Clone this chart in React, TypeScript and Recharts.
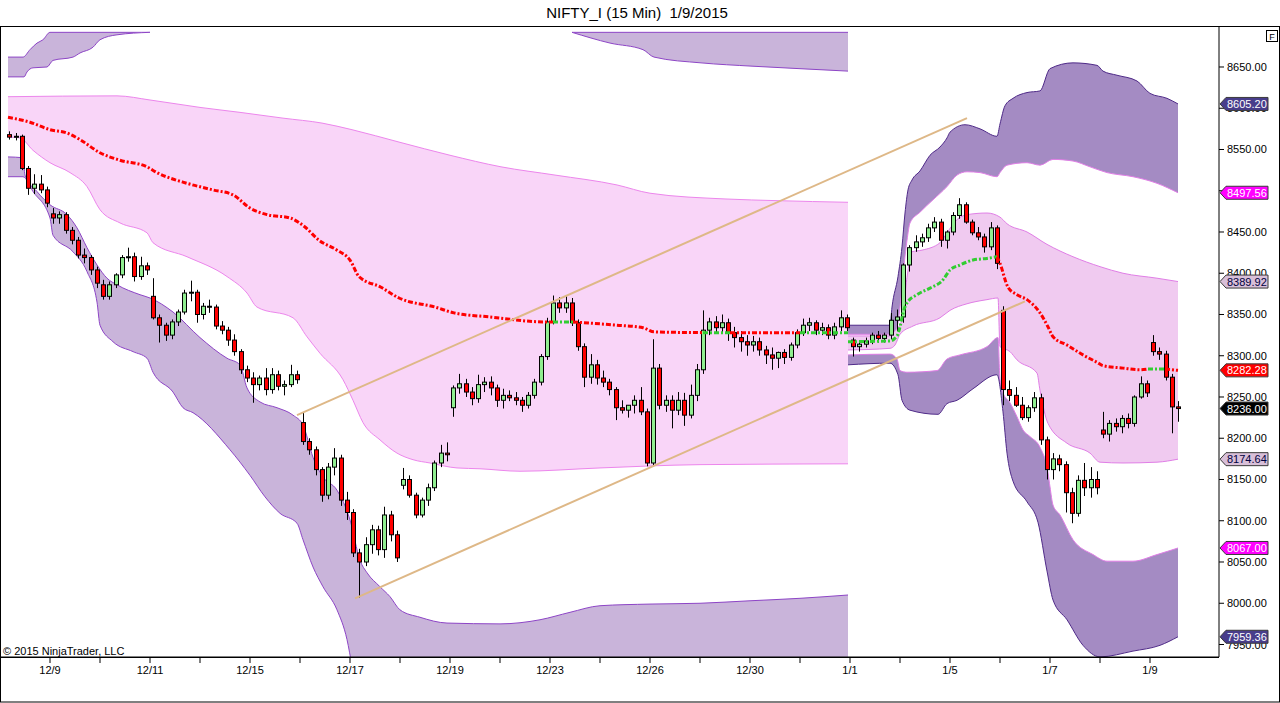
import React from "react";
import { Area, Bar, ComposedChart, Line, XAxis, YAxis } from "recharts";

// trading sessions shown on the time axis (every other one is labelled)
const dayLabels = [
  "12/8", "12/9", "12/10", "12/11", "12/12", "12/15", "12/16", "12/17", "12/18", "12/19", "12/22", "12/23",
  "12/24", "12/26", "12/29", "12/30", "12/31", "1/1", "1/2", "1/5", "1/6", "1/7", "1/8", "1/9"
];

const priceTicks = [7950, 8000, 8050, 8100, 8150, 8200, 8250, 8300, 8350, 8400, 8450, 8500, 8550, 8600, 8650];

// candles, roughly three 15-min bars each: [open, high, low, close]
const c1208 = [[8568, 8572, 8562, 8565], [8565, 8570, 8561, 8566], [8566, 8568, 8525, 8527], [8527, 8530, 8495, 8503], [8503, 8520, 8496, 8508], [8508, 8519, 8497, 8501], [8501, 8505, 8480, 8485]];
const c1209 = [[8472, 8479, 8460, 8467], [8467, 8475, 8460, 8471], [8471, 8474, 8448, 8452], [8452, 8456, 8435, 8440], [8440, 8444, 8418, 8422], [8422, 8430, 8412, 8419], [8419, 8422, 8398, 8404], [8404, 8408, 8382, 8388]];
const c1210 = [[8386, 8392, 8368, 8372], [8372, 8390, 8368, 8386], [8386, 8400, 8382, 8398], [8398, 8422, 8394, 8419], [8419, 8431, 8414, 8420], [8420, 8425, 8390, 8396], [8396, 8420, 8392, 8409], [8409, 8413, 8398, 8404]];
const c1211 = [[8372, 8394, 8344, 8346], [8346, 8350, 8316, 8337], [8337, 8340, 8318, 8325], [8325, 8344, 8320, 8341], [8341, 8356, 8336, 8353], [8353, 8380, 8350, 8376], [8376, 8391, 8366, 8377], [8377, 8380, 8340, 8350]];
const c1212 = [[8350, 8364, 8344, 8360], [8360, 8368, 8352, 8359], [8359, 8362, 8332, 8336], [8336, 8342, 8326, 8331], [8331, 8335, 8312, 8319], [8319, 8326, 8300, 8305], [8305, 8308, 8278, 8283], [8283, 8288, 8268, 8273]];
const c1215 = [[8273, 8280, 8243, 8265], [8265, 8276, 8258, 8273], [8273, 8285, 8252, 8259], [8259, 8285, 8254, 8277], [8277, 8282, 8258, 8263], [8263, 8270, 8252, 8265], [8265, 8289, 8262, 8277], [8277, 8282, 8266, 8271]];
const c1216 = [[8219, 8231, 8192, 8196], [8196, 8200, 8180, 8186], [8186, 8190, 8155, 8162], [8162, 8165, 8123, 8131], [8131, 8170, 8126, 8165], [8165, 8188, 8155, 8176], [8176, 8180, 8118, 8125], [8125, 8135, 8101, 8110]];
const c1217 = [[8110, 8114, 8056, 8061], [8061, 8066, 8007, 8050], [8050, 8080, 8045, 8071], [8071, 8095, 8060, 8089], [8089, 8094, 8058, 8065], [8065, 8117, 8055, 8107], [8107, 8112, 8075, 8083], [8083, 8088, 8050, 8055]];
const c1218 = [[8143, 8164, 8138, 8150], [8150, 8155, 8128, 8131], [8131, 8134, 8103, 8107], [8107, 8128, 8104, 8125], [8125, 8145, 8118, 8140], [8140, 8173, 8136, 8170], [8170, 8192, 8165, 8182], [8182, 8195, 8172, 8180]];
const c1219 = [[8237, 8264, 8226, 8261], [8261, 8278, 8254, 8266], [8266, 8272, 8250, 8256], [8256, 8262, 8240, 8248], [8248, 8277, 8243, 8265], [8265, 8274, 8256, 8268], [8268, 8275, 8252, 8261], [8261, 8265, 8238, 8246]];
const c1222 = [[8246, 8260, 8236, 8252], [8252, 8258, 8245, 8249], [8249, 8256, 8240, 8246], [8246, 8250, 8232, 8240], [8240, 8256, 8236, 8252], [8252, 8272, 8248, 8268], [8268, 8302, 8264, 8299], [8299, 8346, 8295, 8341]];
const c1223 = [[8341, 8373, 8338, 8364], [8364, 8371, 8352, 8358], [8358, 8372, 8352, 8364], [8364, 8370, 8336, 8340], [8340, 8344, 8306, 8311], [8311, 8315, 8262, 8274], [8274, 8302, 8266, 8289], [8289, 8295, 8265, 8273]];
const c1224 = [[8273, 8282, 8262, 8268], [8268, 8272, 8252, 8259], [8259, 8262, 8222, 8237], [8237, 8246, 8230, 8234], [8234, 8240, 8225, 8240], [8240, 8252, 8230, 8246], [8246, 8262, 8228, 8232], [8232, 8236, 8166, 8170]];
const c1226 = [[8170, 8320, 8166, 8285], [8285, 8290, 8235, 8240], [8240, 8252, 8232, 8246], [8246, 8252, 8212, 8234], [8234, 8256, 8228, 8246], [8246, 8255, 8215, 8228], [8228, 8265, 8224, 8252], [8252, 8290, 8245, 8283]];
const c1229 = [[8283, 8355, 8278, 8331], [8331, 8346, 8325, 8341], [8341, 8348, 8328, 8334], [8334, 8350, 8328, 8340], [8340, 8345, 8318, 8328], [8328, 8335, 8310, 8322], [8322, 8330, 8305, 8317], [8317, 8325, 8300, 8313]];
const c1230 = [[8313, 8324, 8305, 8317], [8317, 8322, 8300, 8307], [8307, 8312, 8290, 8301], [8301, 8310, 8283, 8297], [8297, 8305, 8285, 8304], [8304, 8308, 8290, 8298], [8298, 8316, 8294, 8313], [8313, 8332, 8309, 8328]];
const c1231 = [[8328, 8345, 8324, 8337], [8337, 8346, 8330, 8340], [8340, 8343, 8325, 8331], [8331, 8340, 8325, 8334], [8334, 8338, 8320, 8325], [8325, 8340, 8320, 8335], [8335, 8355, 8330, 8346], [8346, 8350, 8330, 8334]];
const c0101 = [[8319, 8322, 8299, 8311], [8311, 8318, 8305, 8314], [8314, 8322, 8310, 8318], [8318, 8328, 8314, 8325], [8325, 8330, 8316, 8321], [8321, 8328, 8316, 8325], [8325, 8352, 8320, 8343], [8343, 8356, 8330, 8347]];
const c0102 = [[8347, 8412, 8340, 8410], [8410, 8434, 8402, 8431], [8431, 8446, 8426, 8438], [8438, 8448, 8432, 8443], [8443, 8460, 8438, 8455], [8455, 8468, 8450, 8462], [8462, 8466, 8432, 8440], [8440, 8452, 8430, 8450]];
const c0105 = [[8450, 8474, 8446, 8470], [8470, 8491, 8466, 8483], [8483, 8486, 8460, 8462], [8462, 8465, 8446, 8449], [8449, 8456, 8440, 8444], [8444, 8448, 8425, 8432], [8432, 8462, 8428, 8455], [8455, 8458, 8405, 8412]];
const c0106 = [[8355, 8360, 8240, 8259], [8259, 8270, 8245, 8252], [8252, 8262, 8238, 8240], [8240, 8250, 8222, 8225], [8225, 8240, 8220, 8237], [8237, 8256, 8232, 8249], [8249, 8254, 8192, 8198], [8198, 8202, 8150, 8162]];
const c0107 = [[8162, 8182, 8150, 8175], [8175, 8180, 8160, 8168], [8168, 8172, 8110, 8134], [8134, 8140, 8097, 8109], [8109, 8155, 8105, 8149], [8149, 8170, 8130, 8140], [8140, 8165, 8128, 8150], [8150, 8160, 8132, 8140]];
const c0108 = [[8210, 8232, 8200, 8205], [8205, 8222, 8196, 8218], [8218, 8224, 8208, 8214], [8214, 8228, 8206, 8224], [8224, 8230, 8212, 8218], [8218, 8252, 8214, 8250], [8250, 8275, 8248, 8266], [8266, 8270, 8250, 8255]];
const c0109 = [[8316, 8325, 8300, 8305], [8305, 8310, 8295, 8302], [8302, 8306, 8270, 8274], [8274, 8278, 8206, 8238], [8238, 8245, 8220, 8236]];

const sessions = [c1208, c1209, c1210, c1211, c1212, c1215, c1216, c1217, c1218, c1219, c1222, c1223, c1224, c1226, c1229, c1230, c1231, c0101, c0102, c0105, c0106, c0107, c0108, c0109];

// channel 1 (12/8 - 12/31), points are [bar index, price]
const s1UpperLTop = [[4, 8662], [11.5, 8662], [15, 8671], [18.5, 8679], [21.5, 8683], [25, 8692], [75, 8692]];
const s1UpperLBottom = [[4, 8638], [12, 8638], [13.5, 8644], [16.5, 8649], [23.5, 8650], [26.5, 8658], [36.5, 8662], [40, 8667], [46.5, 8674], [50, 8683], [58.5, 8689], [75, 8692]];
const s1UpperRTop = [[286, 8692], [424, 8692]];
const s1UpperRBottom = [[286, 8692], [305, 8679], [321.5, 8671], [327, 8662], [350.5, 8655], [376, 8651], [399.5, 8648], [424, 8645]];
const s1PinkTop = [[4, 8614], [58.5, 8615], [75, 8610], [100, 8601], [120, 8595], [141.5, 8588], [161, 8582], [176, 8574], [199.5, 8559], [225, 8543], [250.5, 8529], [277.5, 8519], [308.5, 8507], [325, 8497], [363, 8490], [388.5, 8488], [424, 8486]];
const s1PinkBottom = [[4, 8565], [10, 8564], [16.5, 8549], [25, 8534], [35, 8522], [43.5, 8505], [50, 8477], [60, 8461], [73.5, 8449], [76.5, 8437], [93.5, 8420], [113.5, 8396], [123.5, 8376], [128.5, 8359], [146.5, 8346], [153.5, 8323], [160, 8303], [171.5, 8271], [176.5, 8246], [181.5, 8219], [190, 8198], [198.5, 8182], [206.5, 8174], [215, 8170], [228.5, 8164], [240, 8163], [260, 8160], [300, 8164], [350, 8168], [424, 8169]];
const s1LowerTop = [[4, 8541], [11.5, 8540], [12.5, 8519], [18.5, 8499], [25, 8483], [33.5, 8471], [38.5, 8455], [43.5, 8431], [48.5, 8410], [53.5, 8394], [58.5, 8386], [70, 8374], [75, 8370], [86.5, 8353], [100, 8322], [113.5, 8297], [120, 8289], [123.5, 8261], [130, 8244], [138.5, 8237], [146.5, 8228], [151.5, 8216], [156.5, 8177], [161.5, 8153], [168.5, 8137], [175, 8101], [180, 8052], [183.5, 8037], [190, 8020], [195, 8008], [200, 7992], [210, 7983], [223.5, 7976], [250, 7975], [270, 7980], [285, 7989], [300, 7997], [325, 7999], [350, 8000], [375, 8003], [400, 8006], [424, 8010]];
const s1LowerBottom = [[4, 8517], [11.5, 8517], [16.5, 8499], [25, 8467], [26.5, 8446], [36.5, 8426], [43.5, 8402], [48.5, 8365], [50, 8337], [56.5, 8317], [66.5, 8305], [73.5, 8297], [76.5, 8280], [86.5, 8256], [91.5, 8237], [96.5, 8231], [115, 8186], [125, 8155], [132.5, 8129], [140, 8109], [148.5, 8097], [151.5, 8077], [156.5, 8044], [161.5, 8020], [168.5, 7992], [173.5, 7956], [176, 7925], [185, 7859], [200, 7786], [250, 7774], [325, 7810], [424, 7852]];
// regression line: [bar index, price, 1 when the next stretch is drawn green]
const s1Mean = [[4, 8589, 0], [15, 8583, 0], [25, 8574, 0], [33.5, 8570, 0], [40, 8562, 0], [50, 8546, 0], [60, 8537, 0], [73.5, 8529, 0], [78.5, 8522, 0], [93.5, 8509, 0], [106.5, 8501, 0], [116.5, 8495, 0], [125, 8479, 0], [133.5, 8471, 0], [145, 8467, 0], [152.5, 8456, 0], [159.5, 8440, 0], [168.5, 8428, 0], [175, 8416, 0], [179.5, 8396, 0], [190.5, 8383, 0], [199.5, 8370, 0], [217.5, 8359, 0], [227, 8352, 0], [245, 8347, 0], [272.5, 8341, 0], [276.5, 8341, 1], [286.5, 8341, 0], [308.5, 8337, 0], [321.5, 8334, 0], [327, 8329, 0], [351.5, 8328, 1], [365, 8328, 0], [400, 8328, 1], [424, 8328, 1]];

// channel 2 (1/1 - 1/9)
const s2UpperTop = [[424, 8337], [445, 8337], [446, 8359], [449, 8396], [451, 8432], [452.5, 8473], [454, 8501], [456, 8513], [460, 8524], [465, 8543], [470, 8553], [473.5, 8564], [475, 8571], [482.5, 8580], [490, 8575], [498.5, 8566], [500, 8581], [502.5, 8603], [506.5, 8612], [513.5, 8619], [520, 8621], [525, 8648], [536.5, 8655], [548.5, 8652], [551.5, 8645], [558.5, 8640], [568.5, 8633], [575, 8618], [583.5, 8612], [589, 8605.2]];
const s2UpperBottom = [[424, 8326], [445, 8326], [448, 8331], [450, 8359], [451.5, 8398], [453.5, 8440], [455, 8461], [460, 8474], [466.5, 8489], [473.5, 8505], [478.5, 8519], [483.5, 8523], [490, 8522], [498.5, 8517], [500, 8522], [503.5, 8531], [513.5, 8534], [520, 8531], [526.5, 8538], [536.5, 8536], [545, 8529], [553.5, 8522], [566.5, 8517], [578.5, 8509], [589, 8497.56]];
const s2PinkTop = [[424, 8324], [445, 8324], [446.5, 8328], [451, 8343], [453.5, 8395], [456, 8426], [461, 8428], [470, 8437], [473.5, 8449], [478.5, 8465], [483.5, 8471], [493.5, 8473], [500, 8468], [503.5, 8460], [513.5, 8450], [523.5, 8435], [536.5, 8420], [550, 8408], [561.5, 8400], [578.5, 8394], [589, 8389.92]];
const s2PinkBottom = [[424, 8307], [445, 8309], [447.5, 8313], [450, 8326], [456.5, 8336], [470, 8346], [475, 8355], [483.5, 8363], [493.5, 8368], [499, 8370], [500, 8311], [505, 8305], [508.5, 8295], [518.5, 8279], [520, 8258], [524, 8218], [533.5, 8194], [545, 8182], [550, 8171], [561.5, 8170], [578.5, 8171], [589, 8174.64]];
const s2LowerTop = [[424, 8301], [445, 8302], [448.5, 8296], [450, 8282], [453.5, 8280], [468.5, 8282], [473.5, 8296], [480, 8301], [493.5, 8311], [499, 8322], [500, 8271], [501.5, 8255], [505, 8243], [508.5, 8226], [511.5, 8210], [515, 8202], [520, 8189], [524, 8158], [525, 8141], [526.5, 8119], [530, 8107], [536.5, 8077], [546.5, 8059], [553.5, 8051], [566.5, 8051], [578.5, 8059], [589, 8067]];
const s2LowerBottom = [[424, 8289], [445, 8291], [449, 8277], [451, 8246], [455, 8234], [469, 8229], [473.5, 8242], [478.5, 8246], [486.5, 8260], [498.5, 8277], [501.5, 8232], [503.5, 8182], [506.5, 8148], [513.5, 8123], [519, 8098], [523.5, 8039], [526.5, 8004], [533.5, 7980], [541.5, 7949], [550, 7935], [566.5, 7942], [580, 7949], [589, 7959.36]];
const s2Mean = [[424, 8317, 1], [445, 8318, 1], [448.5, 8324, 1], [450, 8335, 1], [451.5, 8352, 1], [453.5, 8364, 1], [458.5, 8374, 1], [465, 8382, 1], [471.5, 8392, 1], [475, 8404, 1], [480, 8410, 1], [486.5, 8416, 1], [493.5, 8418, 1], [498.5, 8420, 0], [500, 8412, 0], [504, 8383, 0], [508.5, 8374, 0], [513.5, 8368, 0], [520, 8352, 0], [524, 8335, 0], [526.5, 8323, 0], [533.5, 8313, 0], [541.5, 8301, 0], [548.5, 8292, 0], [551.5, 8288, 0], [561.5, 8285, 0], [570, 8283, 0], [574, 8284, 1], [582.5, 8284, 0], [589, 8282.28, 0]];

// hand-drawn trend channel
const trendUpper = [[148.5, 8228], [483.5, 8588]];
const trendLower = [[177.5, 8006], [512.5, 8366]];

const Y_MIN = 7934.85;
const Y_MAX = 8698.47;
const SLOT = 3.125;
const FONT = "Arial, 'Liberation Sans', sans-serif";

const PURPLE1 = "#c9b4da";
const EDGE1 = "#8d45c6";
const PINK1 = "#f9d5f8";
const PINKEDGE1 = "#ec86ec";
const PURPLE2 = "#a48bc3";
const EDGE2 = "#4f2a88";
const PINK2 = "#f0caf0";
const PINKEDGE2 = "#e07ee6";

const rows = new Map();
const row = (u) => {
  const k = Math.round(u * 10000) / 10000;
  if (!rows.has(k)) rows.set(k, { u: k });
  return rows.get(k);
};
const put = (key, pts) => pts.forEach((p) => { row(p[0])[key] = p[1]; });

sessions.forEach((day, k) => {
  const first = k === 0 ? 8 - day.length : 0;
  day.forEach(([o, h, l, c], i) => {
    Object.assign(row(25 * k + SLOT * (first + i) + SLOT / 2), { o, h, l, c });
  });
});

const fills = [
  { key: "s1ult", pts: s1UpperLTop, fill: PURPLE1, stroke: EDGE1 },
  { key: "s1ulb", pts: s1UpperLBottom, fill: "#ffffff", stroke: EDGE1 },
  { key: "s1urt", pts: s1UpperRTop, fill: PURPLE1, stroke: EDGE1 },
  { key: "s1urb", pts: s1UpperRBottom, fill: "#ffffff", stroke: EDGE1 },
  { key: "s1pt", pts: s1PinkTop, fill: PINK1, stroke: PINKEDGE1 },
  { key: "s1pb", pts: s1PinkBottom, fill: "#ffffff", stroke: PINKEDGE1 },
  { key: "s1lt", pts: s1LowerTop, fill: PURPLE1, stroke: EDGE1 },
  { key: "s1lb", pts: s1LowerBottom, fill: "#ffffff", stroke: EDGE1 },
  { key: "s2ut", pts: s2UpperTop, fill: PURPLE2, stroke: EDGE2 },
  { key: "s2ub", pts: s2UpperBottom, fill: "#ffffff", stroke: PINKEDGE2 },
  { key: "s2pt", pts: s2PinkTop, fill: PINK2, stroke: PINKEDGE2 },
  { key: "s2pb", pts: s2PinkBottom, fill: "#ffffff", stroke: PINKEDGE2 },
  { key: "s2lt", pts: s2LowerTop, fill: PURPLE2, stroke: PINKEDGE2 },
  { key: "s2lb", pts: s2LowerBottom, fill: "#ffffff", stroke: EDGE2 }
];
fills.forEach((f) => put(f.key, f.pts));

// split a regression line into red / green stretches that share their end points
const meanSegments = (samples, prefix) => {
  const segs = [];
  for (let i = 0; i < samples.length - 1; i++) {
    const up = samples[i][2] === 1;
    const lastSeg = segs[segs.length - 1];
    if (lastSeg && lastSeg.up === up) lastSeg.pts.push(samples[i + 1]);
    else segs.push({ up, pts: [samples[i], samples[i + 1]] });
  }
  return segs.map((s, j) => ({ ...s, key: prefix + j }));
};
const means = [...meanSegments(s1Mean, "m1_"), ...meanSegments(s2Mean, "m2_")];
means.forEach((m) => put(m.key, m.pts));
put("trendUpper", trendUpper);
put("trendLower", trendLower);

const data = [...rows.values()].sort((a, b) => a.u - b.u);

const last = (pts) => pts[pts.length - 1][1];
const lastClose = c0109[c0109.length - 1][3];
const markerValues = [last(s2UpperTop), last(s2UpperBottom), last(s2PinkTop), last(s2Mean), lastClose, last(s2PinkBottom), last(s2LowerTop), last(s2LowerBottom)];
const markerColors = [
  ["#483d8b", "#ffffff"], ["#ff00ff", "#ffffff"], ["#d8bfd8", "#000040"], ["#ff0000", "#ffffff"],
  ["#000000", "#ffffff"], ["#d8bfd8", "#000040"], ["#ff00ff", "#ffffff"], ["#483d8b", "#ffffff"]
];

const dayTicks = dayLabels.map((_, k) => 25 * k).filter((u) => u > 0);

function Candle(props) {
  const { x, y, width, height, payload } = props;
  if (!payload || payload.o == null || !Number.isFinite(y)) return null;
  const { o, h, l, c } = payload;
  const top = Math.min(y, y + height);
  const ht = Math.abs(height);
  const span = h - l || 1;
  const yOf = (v) => top + ((h - v) / span) * ht;
  const cx = Math.round(x + width / 2);
  const bTop = yOf(Math.max(o, c));
  const bBot = yOf(Math.min(o, c));
  return (
    <g>
      <line x1={cx + 0.5} x2={cx + 0.5} y1={top} y2={top + ht} stroke="#000" strokeWidth={1} />
      <rect x={cx - 1.5} y={bTop} width={4} height={Math.max(bBot - bTop, 1)} fill={c >= o ? "#90ee90" : "#ff0000"} stroke="#000" strokeWidth={1} />
    </g>
  );
}

function DayTick(props) {
  const { x, y, payload } = props;
  const k = Math.round(payload.value / 25);
  return (
    <g>
      <line x1={x} x2={x} y1={y} y2={y + 6} stroke="#000" />
      {k % 2 === 1 && (
        <text x={x} y={y + 17} textAnchor="middle" fontSize={11} fontFamily={FONT} fill="#000">
          {dayLabels[k]}
        </text>
      )}
    </g>
  );
}

function PriceTick(props) {
  const { x, y, payload, index } = props;
  const m = index - priceTicks.length;
  if (m >= 0) {
    const [bg, fg] = markerColors[m];
    return (
      <g>
        <path d={`M${x + 1},${y} L${x + 7},${y - 6.5} L${x + 49},${y - 6.5} L${x + 49},${y + 6.5} L${x + 7},${y + 6.5} Z`} fill={bg} stroke="#3a3a3a" strokeWidth={1} />
        <text x={x + 8} y={y + 4} fontSize={11} fontFamily={FONT} fill={fg}>
          {Number(payload.value).toFixed(2)}
        </text>
      </g>
    );
  }
  return (
    <g>
      <line x1={x} x2={x + 5} y1={y} y2={y} stroke="#000" />
      <text x={x + 8} y={y + 4} fontSize={11} fontFamily={FONT} fill="#000">
        {Number(payload.value).toFixed(2)}
      </text>
    </g>
  );
}

export default function App() {
  return (
    <div style={{ position: "absolute", left: 0, top: 0, width: 1280, height: 703, background: "#fff", fontFamily: FONT }}>
      <ComposedChart width={1280} height={703} data={data} margin={{ top: 27, right: 0, bottom: 0, left: 1 }}>
        <XAxis
          dataKey="u"
          type="number"
          domain={[0.5, 609.5]}
          allowDataOverflow
          ticks={dayTicks}
          interval={0}
          height={46}
          tickSize={0}
          tickMargin={0}
          tickLine={false}
          axisLine={{ stroke: "#000" }}
          tick={DayTick}
        />
        <YAxis
          orientation="right"
          type="number"
          domain={[Y_MIN, Y_MAX]}
          allowDataOverflow
          ticks={[...priceTicks, ...markerValues]}
          interval={0}
          width={61}
          tickSize={0}
          tickMargin={0}
          tickLine={false}
          axisLine={{ stroke: "#000" }}
          tick={PriceTick}
        />
        {fills.map((f) => (
          <Area
            key={f.key}
            dataKey={f.key}
            type="monotoneX"
            baseValue={Y_MIN}
            fill={f.fill}
            fillOpacity={1}
            stroke={f.stroke}
            strokeWidth={1}
            connectNulls
            dot={false}
            activeDot={false}
            isAnimationActive={false}
          />
        ))}
        <Bar dataKey={(d) => (d.o == null ? null : [d.l, d.h])} barSize={4} shape={Candle} isAnimationActive={false} />
        {means.map((m) => (
          <Line
            key={m.key}
            dataKey={m.key}
            type="monotoneX"
            stroke={m.up ? "#32cd32" : "#ff0000"}
            strokeWidth={3}
            strokeDasharray="5 2 2 2"
            connectNulls
            dot={false}
            activeDot={false}
            isAnimationActive={false}
          />
        ))}
        <Line dataKey="trendUpper" type="linear" stroke="#deb887" strokeWidth={2} connectNulls dot={false} activeDot={false} isAnimationActive={false} />
        <Line dataKey="trendLower" type="linear" stroke="#deb887" strokeWidth={2} connectNulls dot={false} activeDot={false} isAnimationActive={false} />
      </ComposedChart>
      <svg width={1280} height={703} style={{ position: "absolute", left: 0, top: 0, pointerEvents: "none" }}>
        <rect x={0.5} y={26.5} width={1279} height={675.5} fill="none" stroke="#000" />
        <line x1={0} x2={1219} y1={657.5} y2={657.5} stroke="#000" />
        <text x={637} y={18} textAnchor="middle" fontSize={15} fontFamily={FONT} fill="#000" style={{ whiteSpace: "pre" }}>
          {"NIFTY_I (15 Min)  1/9/2015"}
        </text>
        <text x={3} y={655} fontSize={11} fontFamily={FONT} fill="#000">
          © 2015 NinjaTrader, LLC
        </text>
        <rect x={1266.5} y={30.5} width={11} height={11} fill="#fff" stroke="#000" />
        <text x={1272} y={39.5} textAnchor="middle" fontSize={9} fontFamily={FONT} fill="#000">
          F
        </text>
      </svg>
    </div>
  );
}
